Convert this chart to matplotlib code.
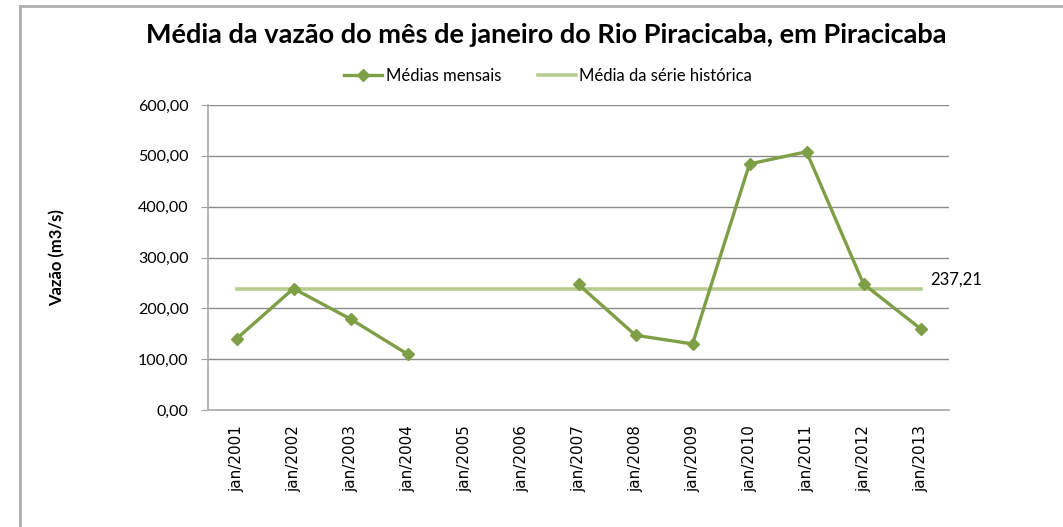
import numpy as np
import matplotlib
matplotlib.use("Agg")
import matplotlib.pyplot as plt
from matplotlib.lines import Line2D

anos = ["jan/2001", "jan/2002", "jan/2003", "jan/2004", "jan/2005", "jan/2006",
        "jan/2007", "jan/2008", "jan/2009", "jan/2010", "jan/2011", "jan/2012",
        "jan/2013"]
medias_mensais = [140, 239, 179, 110, np.nan, np.nan,
                  247, 147, 130, 484, 508, 248, 160]
media_historica = 237.21
yticks = [0, 100, 200, 300, 400, 500, 600]

verde = "#7F9F47"
verde_claro = "#B6CD8F"

fig = plt.figure(figsize=(10.63, 5.27), dpi=100)
ax = fig.add_axes([208 / 1063, 1 - 410 / 527, 741 / 1063, 305 / 527])

x = np.arange(len(anos))
ax.plot(x, [media_historica] * len(anos), color=verde_claro, lw=2.6,
        label="Média da série histórica", zorder=2)
ax.plot(x, medias_mensais, color=verde, lw=2.4, marker="D", ms=6.5,
        label="Médias mensais", zorder=3)
ax.text(x[-1] + 0.17, media_historica + 3, "237,21", fontsize=12,
        family="Lato", va="bottom", ha="left")

ax.set_xlim(-0.5, len(anos) - 0.5)
ax.set_ylim(0, 600)
ax.set_yticks(yticks)
ax.set_yticklabels([f"{v:.2f}".replace(".", ",") for v in yticks],
                   fontsize=11.5, family="Lato")
ax.set_xticks(x)
ax.set_xticklabels(anos, rotation=90, fontsize=11, family="DejaVu Sans")
ax.tick_params(axis="x", length=0, pad=11)
ax.tick_params(axis="y", length=5, color="#a0a0a0", pad=9)
ax.grid(axis="y", color="#8c8c8c", lw=1)
ax.set_axisbelow(True)
for s in ["top", "right"]:
    ax.spines[s].set_visible(False)
for s in ["left", "bottom"]:
    ax.spines[s].set_color("#a8a8a8")
    ax.spines[s].set_linewidth(1.2)

ax.set_ylabel("Vazão (m3/s)", fontsize=12, fontweight="bold", family="Lato",
              labelpad=52)

fig.suptitle("Média da vazão do mês de janeiro do Rio Piracicaba, em Piracicaba",
             x=546 / 1063, y=1 - 35 / 527, va="center", fontsize=19.5,
             fontweight="bold", family="Lato")

h, l = ax.get_legend_handles_labels()
fig.legend(h[::-1], l[::-1], loc="center", bbox_to_anchor=(548 / 1063, 1 - 76 / 527),
           ncol=2, frameon=False, prop={"family": "Lato", "size": 12},
           handlelength=2.3, columnspacing=2.2, handletextpad=0.2)

fig.add_artist(Line2D([20 / 1063, 20 / 1063], [0, 1 - 6 / 527], color="#b0b0b0", lw=2))
fig.add_artist(Line2D([20 / 1063, 1], [1 - 6 / 527, 1 - 6 / 527], color="#b0b0b0", lw=2))

fig.savefig("out.png", dpi=100)
